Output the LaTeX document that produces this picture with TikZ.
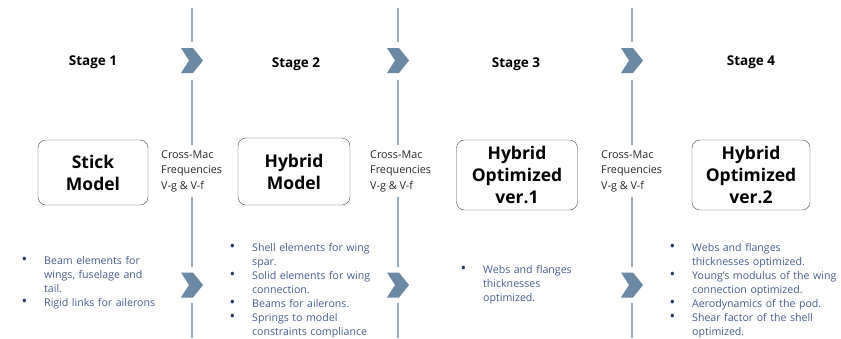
\documentclass[tikz,border=0pt]{standalone}
\usepackage{fontspec}
\setmainfont{Open Sans}
\usepackage{enumitem}
\usetikzlibrary{positioning}

\definecolor{sepline}{RGB}{150,172,194}
\definecolor{chevblue}{RGB}{108,137,164}
\definecolor{notetext}{RGB}{70,92,140}
\definecolor{notedot}{RGB}{38,58,105}
\definecolor{boxedge}{RGB}{70,70,70}

\tikzset{
  stage/.style={font=\bfseries\fontsize{13.5}{16}\selectfont},
  model/.style={draw=boxedge, rounded corners=8pt, align=center, inner sep=0pt,
    font=\bfseries\fontsize{17.5}{22}\selectfont},
  checks/.style={anchor=north west, align=left, inner sep=0pt,
    text=black!85, font=\fontsize{10.8}{15.5}\selectfont},
  notes/.style={anchor=north west, text width=190pt, inner sep=0pt,
    text=notetext, font=\fontsize{10.6}{14}\selectfont},
  divider/.style={draw=sepline, line width=1.5pt},
  chevron/.style={fill=chevblue}
}

\newcommand{\notelist}[1]{%
  \begin{itemize}[leftmargin=26pt, labelsep=17pt, itemsep=0pt, topsep=0pt,
    parsep=0pt, partopsep=0pt,
    label={\color{notedot}\fontsize{15}{14}\selectfont\raisebox{-0.5pt}{\textbullet}}]
  #1
  \end{itemize}}

\begin{document}
\begin{tikzpicture}[x=1pt, y=-1pt]
\useasboundingbox (0,0) rectangle (841,338);

% dividers between stages, broken by the chevrons and the check labels
\foreach \x in {192, 398, 632} {
  \draw[divider] (\x,8) -- (\x,42);
  \draw[divider] (\x,80) -- (\x,145);
  \draw[divider] (\x,197) -- (\x,267);
  \draw[divider] (\x,303) -- (\x,338);
  \foreach \y in {60.5, 285} {
    \fill[chevron] (\x-11,\y-12.5) -- (\x+1,\y-12.5) -- (\x+11,\y)
      -- (\x+1,\y+12.5) -- (\x-11,\y+12.5) -- (\x-3,\y) -- cycle;
  }
}

% stage titles
\node[stage] (stage1) at (93,62) {Stage 1};
\node[stage] (stage2) at (296,64) {Stage 2};
\node[stage] (stage3) at (516,64) {Stage 3};
\node[stage] (stage4) at (751,62) {Stage 4};

% models
\node[model, minimum width=110pt, minimum height=65pt] (stick) at (93,172.5) {Stick\\Model};
\node[model, minimum width=112pt, minimum height=67pt] (hybrid) at (294,171.5) {Hybrid\\Model};
\node[model, minimum width=121pt, minimum height=70pt] (optA) at (517,175) {Hybrid\\Optimized\\ver.1};
\node[model, minimum width=118pt, minimum height=70pt] (optB) at (751,175) {Hybrid\\Optimized\\ver.2};

% checks done between stages
\node[checks] (check1) at (161,150) {Cross-Mac\\Frequencies\\V-g \& V-f};
\node[checks] (check2) at (370,150) {Cross-Mac\\Frequencies\\V-g \& V-f};
\node[checks] (check3) at (601,150) {Cross-Mac\\Frequencies\\V-g \& V-f};

% model contents
\node[notes] (notes1) at (18,250) {\notelist{
  \item Beam elements for\\wings, fuselage and\\tail.
  \item Rigid links for ailerons}};
\node[notes] (notes2) at (226,237) {\notelist{
  \item Shell elements for wing\\spar.
  \item Solid elements for wing\\connection.
  \item Beams for ailerons.
  \item Springs to model\\constraints compliance}};
\node[notes] (notes3) at (457,259) {\notelist{
  \item Webs and flanges\\thicknesses\\optimized.}};
\node[notes] (notes4) at (666,237) {\notelist{
  \item Webs and flanges\\thicknesses optimized.
  \item Young’s modulus of the wing\\connection optimized.
  \item Aerodynamics of the pod.
  \item Shear factor of the shell\\optimized.}};
\end{tikzpicture}
\end{document}
